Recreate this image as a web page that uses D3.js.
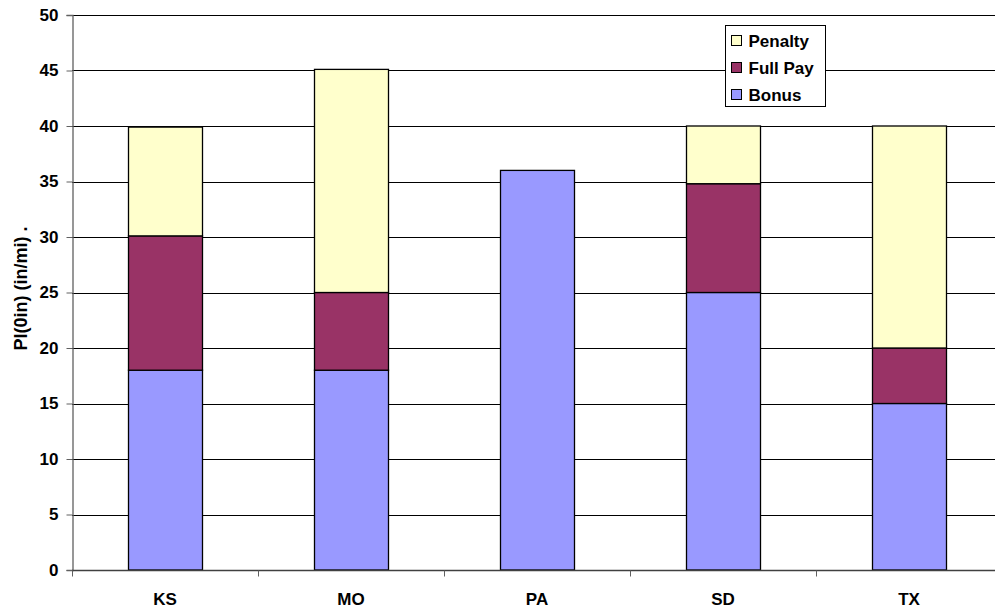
<!DOCTYPE html>
<html>
<head>
<meta charset="utf-8">
<script src="https://cdn.jsdelivr.net/npm/d3@7"></script>
<style>
  html, body { margin: 0; padding: 0; background: #fff; }
  svg { display: block; font-family: "Liberation Sans", Arial, sans-serif; }
</style>
</head>
<body>
<svg id="chart" width="995" height="612"></svg>
<script>
// Stacked PI(0in) thresholds by state
const states = ["KS", "MO", "PA", "SD", "TX"];
const bonus = [18, 18, 36, 25, 15];
const fullPay = [12.1, 7, 0, 9.8, 5];
const penalty = [9.8, 20.1, 0, 5.2, 20];
const seriesNames = ["Bonus", "Full Pay", "Penalty"];
const seriesColors = ["#9999FF", "#993366", "#FFFFCC"];
const yTicks = [0, 5, 10, 15, 20, 25, 30, 35, 40, 45, 50];
const yLabel = "PI(0in) (in/mi)  .";

const svg = d3.select("#chart");
const margin = { left: 72, top: 15, bottom: 42 };
const plotW = 930;                 // plot runs past the right edge of the view
const plotH = 612 - margin.top - margin.bottom;
const fontSize = 17;

const x = d3.scaleBand().domain(states).range([margin.left, margin.left + plotW])
  .paddingInner(0.6).paddingOuter(0.3);
const xOuter = d3.scaleBand().domain(states).range([margin.left, margin.left + plotW]);
const y = d3.scaleLinear().domain([0, 50]).range([margin.top + plotH, margin.top]);

// gridlines
svg.append("g").selectAll("line").data(yTicks.filter(d => d > 0)).join("line")
  .attr("x1", margin.left).attr("x2", margin.left + plotW)
  .attr("y1", d => Math.round(y(d)) + 0.5).attr("y2", d => Math.round(y(d)) + 0.5)
  .attr("stroke", "#000").attr("stroke-width", 1);

// stacked bars
const rows = states.map((s, i) => ({ state: s, "Bonus": bonus[i], "Full Pay": fullPay[i], "Penalty": penalty[i] }));
const stack = d3.stack().keys(seriesNames)(rows);
svg.append("g").selectAll("g").data(stack).join("g")
  .attr("fill", (d, i) => seriesColors[i])
  .selectAll("rect").data(d => d.filter(p => p[1] - p[0] > 0)).join("rect")
  .attr("x", d => Math.round(x(d.data.state)) + 0.5)
  .attr("width", Math.round(x.bandwidth()))
  .attr("y", d => y(d[1]))
  .attr("height", d => y(d[0]) - y(d[1]))
  .attr("stroke", "#000").attr("stroke-width", 1.3);

// y axis
const yAxis = svg.append("g")
  .attr("transform", `translate(${margin.left + 0.5},0)`)
  .call(d3.axisLeft(y).tickValues(yTicks).tickSize(6).tickPadding(8).tickFormat(d3.format("d")));
yAxis.select(".domain").attr("stroke", "#606060").attr("stroke-width", 1.3);
yAxis.selectAll(".tick line").attr("stroke", "#606060");
yAxis.selectAll(".tick text").attr("font-size", fontSize).attr("font-weight", "bold").attr("fill", "#000")
  .attr("font-family", "'Liberation Sans', Arial, sans-serif");

// x axis with ticks at category boundaries
const xg = svg.append("g").attr("transform", `translate(0,${Math.round(y(0)) + 0.5})`);
xg.append("line").attr("x1", margin.left).attr("x2", margin.left + plotW)
  .attr("stroke", "#404040").attr("stroke-width", 1.5);
const bounds = states.map(s => xOuter(s)).concat([margin.left + plotW]);
xg.selectAll("line.tk").data(bounds).join("line").attr("class", "tk")
  .attr("x1", d => Math.round(d) + 0.5).attr("x2", d => Math.round(d) + 0.5)
  .attr("y1", 0).attr("y2", 6).attr("stroke", "#606060");
xg.selectAll("text").data(states).join("text")
  .attr("x", d => x(d) + x.bandwidth() / 2).attr("y", 34)
  .attr("text-anchor", "middle").attr("font-size", fontSize).attr("font-weight", "bold")
  .text(d => d);

// y axis title
svg.append("text")
  .attr("transform", `translate(27,${margin.top + plotH / 2 - 4}) rotate(-90)`)
  .attr("text-anchor", "middle").attr("font-size", 18).attr("font-weight", "bold")
  .text(yLabel);

// legend
const lg = svg.append("g").attr("transform", "translate(725.5,25.5)");
lg.append("rect").attr("width", 100).attr("height", 81)
  .attr("fill", "#fff").attr("stroke", "#000").attr("stroke-width", 1);
const legendOrder = [2, 1, 0];
legendOrder.forEach((si, k) => {
  const cy = 15 + k * 27;
  lg.append("rect").attr("x", 6).attr("y", cy - 5).attr("width", 10).attr("height", 10)
    .attr("fill", seriesColors[si]).attr("stroke", "#000").attr("stroke-width", 1);
  lg.append("text").attr("x", 23).attr("y", cy + 6)
    .attr("font-size", fontSize).attr("font-weight", "bold").text(seriesNames[si]);
});
</script>
</body>
</html>
